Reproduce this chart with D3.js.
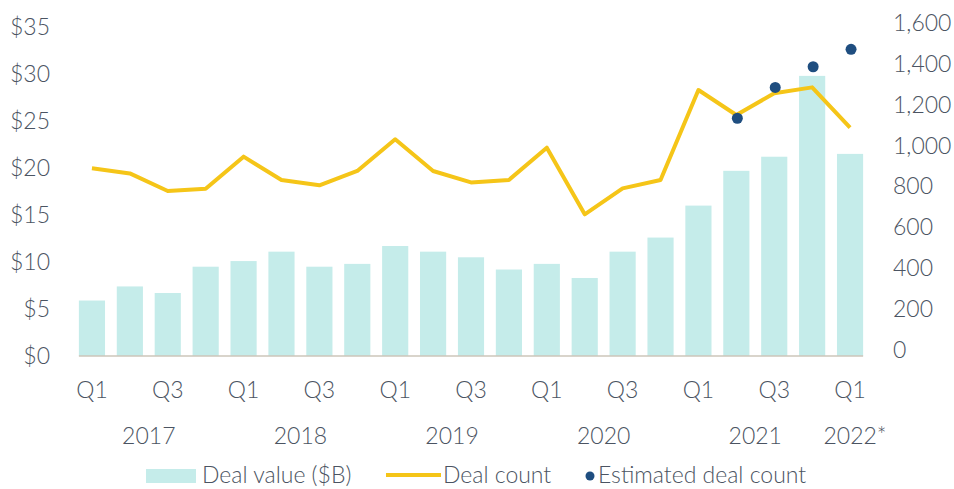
<!DOCTYPE html>
<html>
<head>
<meta charset="utf-8">
<script src="https://cdn.jsdelivr.net/npm/d3@7"></script>
<style>
  body { margin: 0; background: #fff; }
  text { font-family: Lato, "Open Sans", sans-serif; font-weight: 300; fill: #4b5462; }
</style>
</head>
<body>
<svg width="954" height="489"></svg>
<script>
var quarters = ["2017 Q1","2017 Q2","2017 Q3","2017 Q4",
                "2018 Q1","2018 Q2","2018 Q3","2018 Q4",
                "2019 Q1","2019 Q2","2019 Q3","2019 Q4",
                "2020 Q1","2020 Q2","2020 Q3","2020 Q4",
                "2021 Q1","2021 Q2","2021 Q3","2021 Q4",
                "2022 Q1"];
var dealValue = [5.9, 7.4, 6.7, 9.5, 10.1, 11.1, 9.5, 9.8, 11.7, 11.1, 10.5,
                 9.2, 9.8, 8.3, 11.1, 12.6, 16.0, 19.7, 21.2, 29.8, 21.5];
var dealCount = [889, 864, 778, 789, 946, 832, 806, 876, 1031, 876, 820,
                 832, 990, 664, 791, 832, 1272, 1150, 1256, 1285, 1088];
var estQuarters = ["2021 Q2","2021 Q3","2021 Q4","2022 Q1"];
var estCount = [1134, 1285, 1386, 1471];
var years = ["2017","2018","2019","2020","2021","2022*"];
var leftTicks = [0, 5, 10, 15, 20, 25, 30, 35];
var rightTicks = [0, 200, 400, 600, 800, 1000, 1200, 1400, 1600];

var fs = "23px";
var svg = d3.select("svg");

var x = d3.scaleBand()
  .domain(quarters)
  .range([73, 869])
  .paddingInner(0.31)
  .paddingOuter(0.155);

var yLeft = d3.scaleLinear().domain([0, 35]).range([356, 27]);
var yRight = d3.scaleLinear().domain([0, 1600]).range([350, 23]);

// bars
svg.append("g").selectAll("rect")
  .data(dealValue)
  .enter().append("rect")
    .attr("x", function(d, i) { return x(quarters[i]); })
    .attr("y", function(d) { return yLeft(d); })
    .attr("width", x.bandwidth())
    .attr("height", function(d) { return yLeft(0) - yLeft(d); })
    .attr("fill", "#c5ecea");

// baseline
svg.append("line")
  .attr("x1", x(quarters[0]))
  .attr("x2", x(quarters[quarters.length - 1]) + x.bandwidth())
  .attr("y1", yLeft(0))
  .attr("y2", yLeft(0))
  .attr("stroke", "#cdc6ba")
  .attr("stroke-width", 1.5);

// deal count line
var line = d3.line()
  .x(function(d, i) { return x(quarters[i]) + x.bandwidth() / 2; })
  .y(function(d) { return yRight(d); });

svg.append("path")
  .datum(dealCount)
  .attr("d", line)
  .attr("fill", "none")
  .attr("stroke", "#f5c518")
  .attr("stroke-width", 4)
  .attr("stroke-linejoin", "round");

// estimated dots
svg.append("g").selectAll("circle")
  .data(estCount)
  .enter().append("circle")
    .attr("cx", function(d, i) { return x(estQuarters[i]) + x.bandwidth() / 2 + 1; })
    .attr("cy", function(d) { return yRight(d); })
    .attr("r", 5.5)
    .attr("fill", "#1f4e80");

// left axis
var gl = svg.append("g")
  .attr("transform", "translate(50,0)")
  .call(d3.axisLeft(yLeft).tickValues(leftTicks).tickSize(0).tickPadding(0)
    .tickFormat(function(d) { return "$" + d; }));
gl.select(".domain").remove();
gl.selectAll("text").style("font-size", fs).style("font-family", null).attr("fill", null);

// right axis
var gr = svg.append("g")
  .attr("transform", "translate(893,0)")
  .call(d3.axisRight(yRight).tickValues(rightTicks).tickSize(0).tickPadding(0)
    .tickFormat(d3.format(",")));
gr.select(".domain").remove();
gr.selectAll("text").style("font-size", fs).style("font-family", null).attr("fill", null);

// quarter labels
var gx = svg.append("g")
  .attr("transform", "translate(0,382)")
  .call(d3.axisBottom(x)
    .tickValues(quarters.filter(function(d, i) { return i % 2 === 0; }))
    .tickSize(0).tickPadding(0)
    .tickFormat(function(d) { return d.split(" ")[1]; }));
gx.select(".domain").remove();
gx.selectAll("text").style("font-size", fs).style("font-family", null).attr("fill", null);

// year labels
svg.append("g").selectAll("text")
  .data(years)
  .enter().append("text")
    .attr("x", function(d) {
      var yq = quarters.filter(function(q) { return q.slice(0, 4) === d.slice(0, 4); });
      var x0 = x(yq[0]), x1 = x(yq[yq.length - 1]) + x.bandwidth();
      return (x0 + x1) / 2 + (d.length > 4 ? 5 : 0);
    })
    .attr("y", 444)
    .attr("text-anchor", "middle")
    .style("font-size", fs)
    .text(function(d) { return d; });

// legend
var legend = svg.append("g");
legend.append("rect")
  .attr("x", 146).attr("y", 469).attr("width", 50).attr("height", 14)
  .attr("fill", "#c5ecea");
legend.append("text").attr("x", 202).attr("y", 483).style("font-size", fs).text("Deal value ($B)");
legend.append("line")
  .attr("x1", 386).attr("x2", 441).attr("y1", 475).attr("y2", 475)
  .attr("stroke", "#f5c518").attr("stroke-width", 4);
legend.append("text").attr("x", 443).attr("y", 483).style("font-size", fs).text("Deal count");
legend.append("circle")
  .attr("cx", 590).attr("cy", 476).attr("r", 4.5)
  .attr("fill", "#1f4e80");
legend.append("text").attr("x", 598).attr("y", 483).style("font-size", fs).text("Estimated deal count");
</script>
</body>
</html>
